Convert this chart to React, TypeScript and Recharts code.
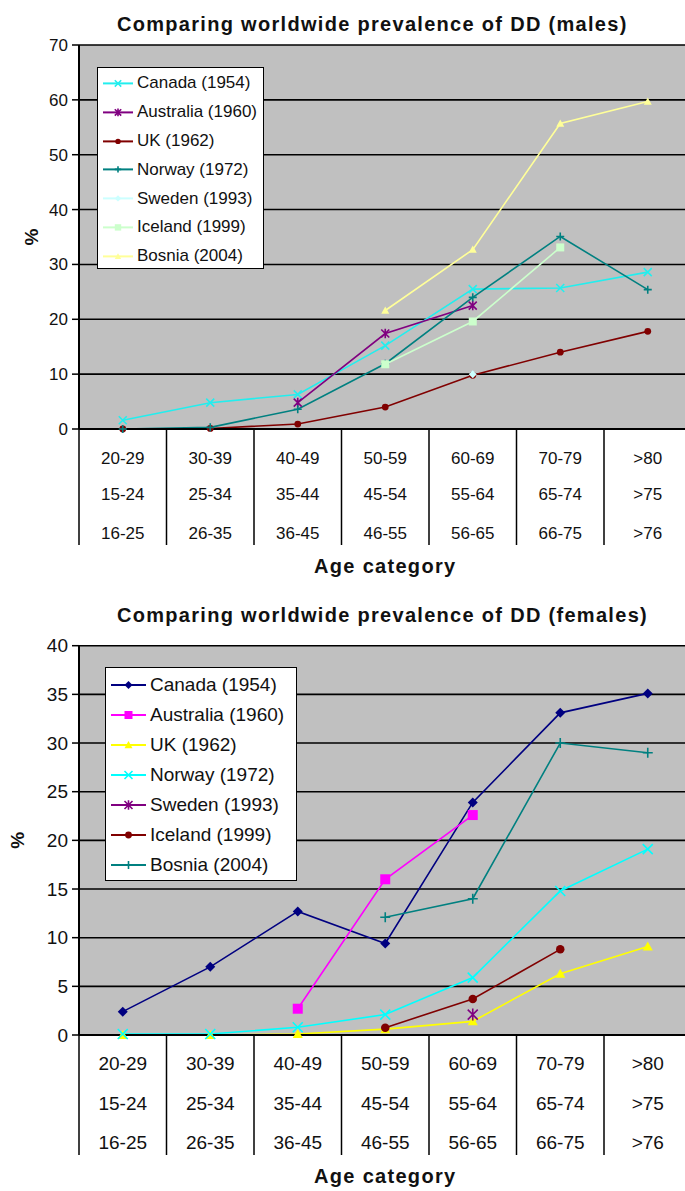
import { LineChart, Line, XAxis, YAxis, CartesianGrid, Legend } from 'recharts'

const FONT = "'Liberation Sans', Arial, Helvetica, sans-serif"

// age categories, three study groupings per column
const ageRow1 = ['20-29', '30-39', '40-49', '50-59', '60-69', '70-79', '>80']
const ageRow2 = ['15-24', '25-34', '35-44', '45-54', '55-64', '65-74', '>75']
const ageRow3 = ['16-25', '26-35', '36-45', '46-55', '56-65', '66-75', '>76']

const studies = ['Canada (1954)', 'Australia (1960)', 'UK (1962)', 'Norway (1972)', 'Sweden (1993)', 'Iceland (1999)', 'Bosnia (2004)']

// males, %
const malesCanada = [1.6, 4.8, 6.3, 15.2, 25.5, 25.7, 28.6]
const malesAustralia = [null, null, 4.8, 17.4, 22.5, null, null]
const malesUK = [0, 0.1, 0.9, 4, 9.8, 14, 17.8]
const malesNorway = [0, 0.3, 3.6, 11.9, 24, 35.1, 25.4]
const malesSweden = [null, null, null, null, 10, null, null]
const malesIceland = [null, null, null, 11.8, 19.6, 33.1, null]
const malesBosnia = [null, null, null, 21.6, 32.7, 55.7, 59.7]

// females, %
const femalesCanada = [2.4, 7.0, 12.7, 9.4, 23.9, 33.1, 35.1]
const femalesAustralia = [null, null, 2.7, 16.0, 22.6, null, null]
const femalesUK = [0, 0, 0.1, 0.6, 1.4, 6.3, 9.1]
const femalesNorway = [0.1, 0.1, 0.8, 2.1, 5.9, 14.8, 19.1]
const femalesSweden = [null, null, null, null, 2.1, null, null]
const femalesIceland = [null, null, null, 0.75, 3.7, 8.8, null]
const femalesBosnia = [null, null, null, 12.1, 14.0, 30.0, 29.0]

const malesTicks = [0, 10, 20, 30, 40, 50, 60, 70]
const femalesTicks = [0, 5, 10, 15, 20, 25, 30, 35, 40]

const malesColors = ['#22EEEE', '#800080', '#800000', '#008080', '#CCFFFF', '#CCFFCC', '#FFFF99']
const malesMarkers = ['x', 'star', 'circle', 'plus', 'diamond', 'square', 'triangle']
const femalesColors = ['#000080', '#FF00FF', '#FFFF00', '#00FFFF', '#800080', '#800000', '#008080']
const femalesMarkers = ['diamond', 'square', 'triangle', 'x', 'star', 'circle', 'plus']

type Val = number | null

function buildRows(series: Val[][]) {
  return ageRow1.map((age, i) => {
    const row: Record<string, string | Val> = { age }
    series.forEach((s, k) => {
      row['s' + k] = s[i]
    })
    return row
  })
}

function Marker({ kind, cx, cy, r, color }: { kind: string; cx: number; cy: number; r: number; color: string }) {
  switch (kind) {
    case 'x':
      return <path d={`M${cx - r},${cy - r}L${cx + r},${cy + r}M${cx - r},${cy + r}L${cx + r},${cy - r}`} stroke={color} strokeWidth={1.6} fill="none" />
    case 'star':
      return (
        <path
          d={`M${cx - r},${cy - r}L${cx + r},${cy + r}M${cx - r},${cy + r}L${cx + r},${cy - r}M${cx},${cy - r * 1.2}L${cx},${cy + r * 1.2}`}
          stroke={color}
          strokeWidth={1.6}
          fill="none"
        />
      )
    case 'plus':
      return <path d={`M${cx - r},${cy}L${cx + r},${cy}M${cx},${cy - r}L${cx},${cy + r}`} stroke={color} strokeWidth={1.6} fill="none" />
    case 'circle':
      return <circle cx={cx} cy={cy} r={r * 0.85} fill={color} />
    case 'square':
      return <rect x={cx - r} y={cy - r} width={r * 2} height={r * 2} fill={color} />
    case 'diamond':
      return <path d={`M${cx},${cy - r}L${cx + r},${cy}L${cx},${cy + r}L${cx - r},${cy}Z`} fill={color} />
    default:
      return <path d={`M${cx},${cy - r}L${cx + r},${cy + r * 0.8}L${cx - r},${cy + r * 0.8}Z`} fill={color} />
  }
}

interface ChartProps {
  title: string
  top: number
  height: number
  plotTop: number
  xAxisHeight: number
  series: Val[][]
  colors: string[]
  markers: string[]
  ticks: number[]
  tickFont: number
  legendFont: number
  legendBox: { left: number; top: number; width: number; height: number; padTop: number; rowH: number; lineW: number; gap: number }
  markerR: number
  rowsY: number[]
  sepLen: number
  xLabelOffset: number
  pctX: number
  titleTop: number
}

const CHART_W = 700
const Y_W = 79
const RIGHT = 8.5
const BAND = (CHART_W - Y_W - RIGHT) / ageRow1.length

function PrevalenceChart(p: ChartProps) {
  const data = buildRows(p.series)
  const lb = p.legendBox

  const AgeTick = (t: any) => {
    const i = ageRow1.indexOf(t.payload.value)
    const { x, y } = t
    return (
      <g>
        {i === 0 && <line x1={x - BAND / 2} x2={x - BAND / 2} y1={y} y2={y + p.sepLen} stroke="#000" strokeWidth={1.5} />}
        <line x1={x + BAND / 2} x2={x + BAND / 2} y1={y} y2={y + p.sepLen} stroke="#000" strokeWidth={1.5} />
        {[ageRow1, ageRow2, ageRow3].map((row, r) => (
          <text key={r} x={x} y={y + p.rowsY[r]} textAnchor="middle" fontSize={p.tickFont} fontFamily={FONT} fill="#111">
            {row[i]}
          </text>
        ))}
      </g>
    )
  }

  const PctLabel = (l: any) => {
    const vb = l.viewBox || { y: 0, height: 0 }
    const cy = vb.y + vb.height / 2
    return (
      <text x={p.pctX} y={cy} transform={`rotate(-90 ${p.pctX} ${cy})`} textAnchor="middle" dominantBaseline="central" fontSize={19} fontWeight="bold" fontFamily={FONT} fill="#111">
        %
      </text>
    )
  }

  const legendContent = () => (
    <div
      style={{
        width: lb.width,
        height: lb.height,
        boxSizing: 'border-box',
        border: '1.5px solid #000',
        background: '#fff',
        paddingTop: lb.padTop,
      }}
    >
      {studies.map((name, k) => (
        <div key={name} style={{ display: 'flex', alignItems: 'center', height: lb.rowH }}>
          <svg width={lb.lineW + 5} height={lb.rowH} style={{ flex: 'none' }}>
            <line x1={5} x2={lb.lineW + 5} y1={lb.rowH / 2} y2={lb.rowH / 2} stroke={p.colors[k]} strokeWidth={2} />
            <Marker kind={p.markers[k]} cx={5 + lb.lineW / 2} cy={lb.rowH / 2} r={p.markerR * 0.8} color={p.colors[k]} />
          </svg>
          <span style={{ marginLeft: lb.gap, fontSize: p.legendFont, fontFamily: FONT, color: '#111', whiteSpace: 'nowrap' }}>{name}</span>
        </div>
      ))}
    </div>
  )

  return (
    <div style={{ position: 'absolute', left: 0, top: p.top, width: CHART_W, height: p.height }}>
      <div
        style={{
          position: 'absolute',
          left: 117,
          top: p.titleTop,
          fontFamily: FONT,
          fontWeight: 'bold',
          fontSize: 20,
          lineHeight: 1,
          letterSpacing: 1.3,
          color: '#111',
          whiteSpace: 'nowrap',
          zIndex: 2,
        }}
      >
        {p.title}
      </div>
      <LineChart width={CHART_W} height={p.height} data={data} margin={{ top: p.plotTop, right: RIGHT, bottom: 0, left: 0 }}>
        <CartesianGrid vertical={false} fill="#C0C0C0" stroke="#000" strokeWidth={1.6} />
        <XAxis
          dataKey="age"
          height={p.xAxisHeight}
          interval={0}
          padding={{ left: BAND / 2, right: BAND / 2 }}
          tickSize={0}
          tickMargin={0}
          tickLine={false}
          axisLine={{ stroke: '#000', strokeWidth: 2 }}
          tick={AgeTick}
          label={{
            value: 'Age category',
            position: 'insideBottom',
            offset: p.xLabelOffset,
            fill: '#111',
            fontSize: 20,
            fontWeight: 'bold',
            fontFamily: FONT,
            letterSpacing: 1.3,
          }}
        />
        <YAxis
          width={Y_W}
          domain={[p.ticks[0], p.ticks[p.ticks.length - 1]]}
          ticks={p.ticks}
          interval={0}
          tickSize={7}
          tickMargin={4}
          tick={{ fontSize: p.tickFont, fill: '#111', fontFamily: FONT }}
          tickLine={{ stroke: '#000', strokeWidth: 1.5 }}
          axisLine={{ stroke: '#000', strokeWidth: 2 }}
          label={<PctLabel />}
        />
        <Legend
          layout="vertical"
          align="center"
          verticalAlign="middle"
          content={legendContent}
          wrapperStyle={{ left: lb.left, top: lb.top, width: lb.width, height: lb.height }}
        />
        {studies.map((name, k) => (
          <Line
            key={name}
            dataKey={'s' + k}
            name={name}
            stroke={p.colors[k]}
            strokeWidth={1.6}
            isAnimationActive={false}
            activeDot={false}
            dot={(d: any) => {
              if (d.value == null || d.cx == null || d.cy == null) return <g key={`${k}-${d.index}`} />
              return (
                <g key={`${k}-${d.index}`}>
                  <Marker kind={p.markers[k]} cx={d.cx} cy={d.cy} r={p.markerR} color={p.colors[k]} />
                </g>
              )
            }}
          />
        ))}
      </LineChart>
    </div>
  )
}

export default function App() {
  return (
    <div style={{ position: 'absolute', left: 0, top: 0, width: 685, height: 1191, overflow: 'hidden', background: '#fff' }}>
      <PrevalenceChart
        title="Comparing worldwide prevalence of DD (males)"
        top={0}
        height={590}
        plotTop={45}
        xAxisHeight={161}
        series={[malesCanada, malesAustralia, malesUK, malesNorway, malesSweden, malesIceland, malesBosnia]}
        colors={malesColors}
        markers={malesMarkers}
        ticks={malesTicks}
        tickFont={17}
        legendFont={17}
        legendBox={{ left: 97, top: 67, width: 167, height: 202, padTop: 1, rowH: 28.8, lineW: 30, gap: 4 }}
        markerR={4}
        rowsY={[35, 71, 110]}
        sepLen={116}
        xLabelOffset={17}
        pctX={31}
        titleTop={14}
      />
      <PrevalenceChart
        title="Comparing worldwide prevalence of DD (females)"
        top={600}
        height={591}
        plotTop={45.7}
        xAxisHeight={156}
        series={[femalesCanada, femalesAustralia, femalesUK, femalesNorway, femalesSweden, femalesIceland, femalesBosnia]}
        colors={femalesColors}
        markers={femalesMarkers}
        ticks={femalesTicks}
        tickFont={19}
        legendFont={19}
        legendBox={{ left: 105, top: 67, width: 192, height: 214, padTop: 2, rowH: 30, lineW: 35, gap: 4 }}
        markerR={5}
        rowsY={[35, 75, 114]}
        sepLen={120}
        xLabelOffset={8}
        pctX={18}
        titleTop={5}
      />
    </div>
  )
}
